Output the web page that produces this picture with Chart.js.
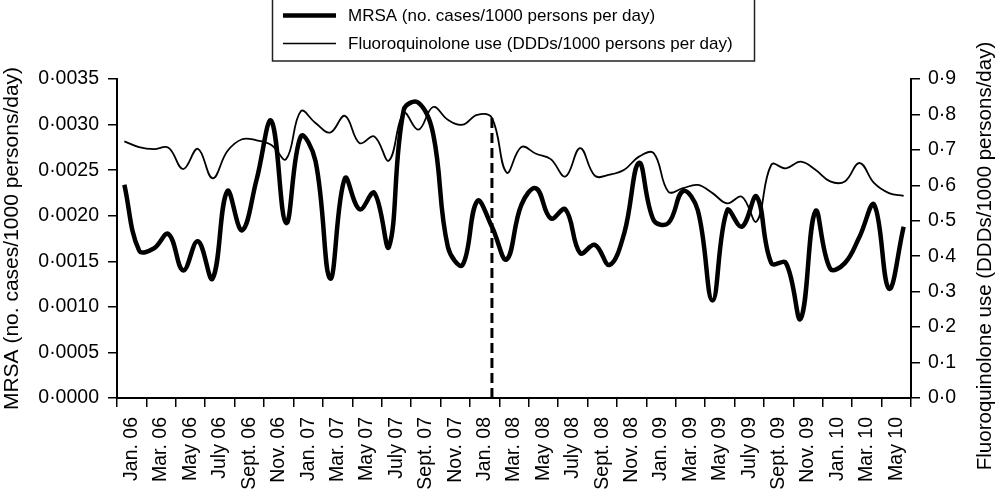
<!DOCTYPE html>
<html>
<head>
<meta charset="utf-8">
<script src="https://cdn.jsdelivr.net/npm/chart.js@4.4.1/dist/chart.umd.min.js"></script>
<style>
  html, body { margin: 0; padding: 0; background: #fff; }
  #wrap { width: 1000px; height: 495px; position: relative; }
</style>
</head>
<body>
<div id="wrap"><canvas id="main-chart"></canvas></div>
<script>
// monthly values, Jan 06 .. June 10
var mrsaValues = [0.00234, 0.00162, 0.00164, 0.0018, 0.0014, 0.00172, 0.00131, 0.00227, 0.00184, 0.0024,
  0.00304, 0.00192, 0.00287, 0.0026, 0.00131, 0.00241, 0.00207, 0.00225, 0.00166, 0.00316,
  0.00324, 0.0029, 0.00166, 0.00146, 0.00216, 0.00188, 0.00152, 0.00212, 0.0023, 0.00197,
  0.00207, 0.00159, 0.00168, 0.00146, 0.00181, 0.00258, 0.00195, 0.00192, 0.00227, 0.00206,
  0.00107, 0.00206, 0.00188, 0.00221, 0.00148, 0.00148, 0.00087, 0.00205, 0.00142, 0.00148,
  0.00177, 0.00212, 0.0012, 0.00188];

var fqValues = [0.724, 0.708, 0.702, 0.706, 0.646, 0.703, 0.62, 0.696, 0.73, 0.727,
  0.714, 0.674, 0.809, 0.776, 0.749, 0.796, 0.719, 0.738, 0.67, 0.804,
  0.757, 0.821, 0.785, 0.771, 0.799, 0.79, 0.636, 0.708, 0.689, 0.674,
  0.625, 0.705, 0.627, 0.63, 0.644, 0.681, 0.691, 0.582, 0.592, 0.601,
  0.578, 0.549, 0.568, 0.498, 0.658, 0.648, 0.667, 0.644, 0.611, 0.611,
  0.663, 0.606, 0.578, 0.57];

// one label per two months
var xLabels = ["Jan. 06", "Mar. 06", "May 06", "July 06", "Sept. 06", "Nov. 06",
  "Jan. 07", "Mar. 07", "May 07", "July 07", "Sept. 07", "Nov. 07",
  "Jan. 08", "Mar. 08", "May 08", "July 08", "Sept. 08", "Nov. 08",
  "Jan. 09", "Mar. 09", "May 09", "July 09", "Sept. 09", "Nov. 09",
  "Jan. 10", "Mar. 10", "May 10"];

var leftTicks = ["0·0000", "0·0005", "0·0010", "0·0015", "0·0020", "0·0025", "0·0030", "0·0035"];
var rightTicks = ["0·0", "0·1", "0·2", "0·3", "0·4", "0·5", "0·6", "0·7", "0·8", "0·9"];

// dashed marker at Feb 08
var markerMonth = 25;
var markerTop = 0.00312;

var seriesNames = ["MRSA (no. cases/1000 persons per day)", "Fluoroquinolone use (DDDs/1000 persons per day)"];
var leftTitle = "MRSA (no. cases/1000 persons/day)";
var rightTitle = "Fluoroquinolone use (DDDs/1000 persons/day)";

var FONT = "'Liberation Sans', Arial, Helvetica, sans-serif";

function toPoints(arr) {
  return arr.map(function (v, i) { return { x: i + 0.5, y: v }; });
}

var mrsaData = {
  type: "line",
  label: seriesNames[0],
  data: toPoints(mrsaValues),
  borderColor: "#000",
  borderWidth: 4.5,
  tension: 0.4,
  pointRadius: 0,
  fill: false,
  yAxisID: "y",
};

var fqData = {
  type: "line",
  label: seriesNames[1],
  data: toPoints(fqValues),
  borderColor: "#000",
  borderWidth: 1.8,
  tension: 0.4,
  pointRadius: 0,
  fill: false,
  yAxisID: "y2",
};

var markerData = {
  type: "line",
  label: "marker",
  data: [{ x: markerMonth + 0.5, y: 0 }, { x: markerMonth + 0.5, y: markerTop }],
  borderColor: "#000",
  borderWidth: 3,
  borderDash: [10, 5],
  tension: 0,
  pointRadius: 0,
  yAxisID: "y",
};

// legend box and right-hand title
var extras = {
  id: "extras",
  afterDraw: function (chart) {
    var c = chart.ctx;
    c.save();
    c.strokeStyle = "#222";
    c.lineWidth = 1.5;
    c.strokeRect(272.5, -1, 482, 62);
    c.strokeStyle = "#000";
    c.lineWidth = 4.5;
    c.beginPath(); c.moveTo(283, 15.5); c.lineTo(336, 15.5); c.stroke();
    c.lineWidth = 1.5;
    c.beginPath(); c.moveTo(283, 43.5); c.lineTo(336, 43.5); c.stroke();
    c.fillStyle = "#000";
    c.font = "17px " + FONT;
    c.textBaseline = "middle";
    c.textAlign = "left";
    c.fillText(seriesNames[0], 348, 16);
    c.fillText(seriesNames[1], 348, 44);

    c.translate(985, 256);
    c.rotate(-Math.PI / 2);
    c.textAlign = "center";
    c.font = "20.5px " + FONT;
    c.fillText(rightTitle, 0, 0);
    c.restore();
  },
};

var ctx = document.getElementById("main-chart");
var mainChart = new Chart(ctx, {
  data: { datasets: [mrsaData, fqData, markerData] },
  options: {
    responsive: true,
    maintainAspectRatio: false,
    animation: false,
    layout: { padding: { top: 79, left: 0, right: 0, bottom: 0 } },
    plugins: {
      legend: { display: false },
      tooltip: { enabled: false },
    },
    scales: {
      x: {
        type: "linear",
        min: 0,
        max: 54,
        afterBuildTicks: function (scale) {
          var t = [];
          for (var i = 0; i <= 54; i++) t.push({ value: i });
          scale.ticks = t;
        },
        afterFit: function (scale) { scale.height = 97; },
        border: { color: "#000", width: 2 },
        grid: {
          drawOnChartArea: false,
          tickLength: 9,
          lineWidth: 1.5,
          color: function (c) {
            return c.tick && c.tick.value % 2 === 0 ? "#000" : "rgba(0,0,0,0)";
          },
        },
        ticks: {
          autoSkip: false,
          minRotation: 90,
          maxRotation: 90,
          padding: 10,
          color: "#000",
          font: { family: FONT, size: 19.5 },
          callback: function (v) {
            return v % 2 === 1 ? xLabels[(v - 1) / 2] : "";
          },
        },
      },
      y: {
        position: "left",
        min: 0,
        max: 0.0035,
        afterBuildTicks: function (scale) {
          scale.ticks = leftTicks.map(function (s, i) { return { value: i * 0.0005 }; });
        },
        afterFit: function (scale) { scale.width = 117; },
        border: { color: "#000", width: 2 },
        grid: { drawOnChartArea: false, tickLength: 9, lineWidth: 1.5, color: "#000" },
        ticks: {
          padding: 9,
          color: "#000",
          font: { family: FONT, size: 19.5 },
          callback: function (v, i) { return leftTicks[i]; },
        },
        title: {
          display: true,
          text: leftTitle,
          color: "#000",
          font: { family: FONT, size: 21 },
          padding: 0,
        },
      },
      y2: {
        position: "right",
        min: 0,
        max: 0.9,
        afterBuildTicks: function (scale) {
          scale.ticks = rightTicks.map(function (s, i) { return { value: i * 0.1 }; });
        },
        afterFit: function (scale) { scale.width = 89; },
        border: { color: "#000", width: 2 },
        grid: { drawOnChartArea: false, tickLength: 9, lineWidth: 1.5, color: "#000" },
        ticks: {
          padding: 8,
          color: "#000",
          font: { family: FONT, size: 19.5 },
          callback: function (v, i) { return rightTicks[i]; },
        },
      },
    },
  },
  plugins: [extras],
});
</script>
</body>
</html>
